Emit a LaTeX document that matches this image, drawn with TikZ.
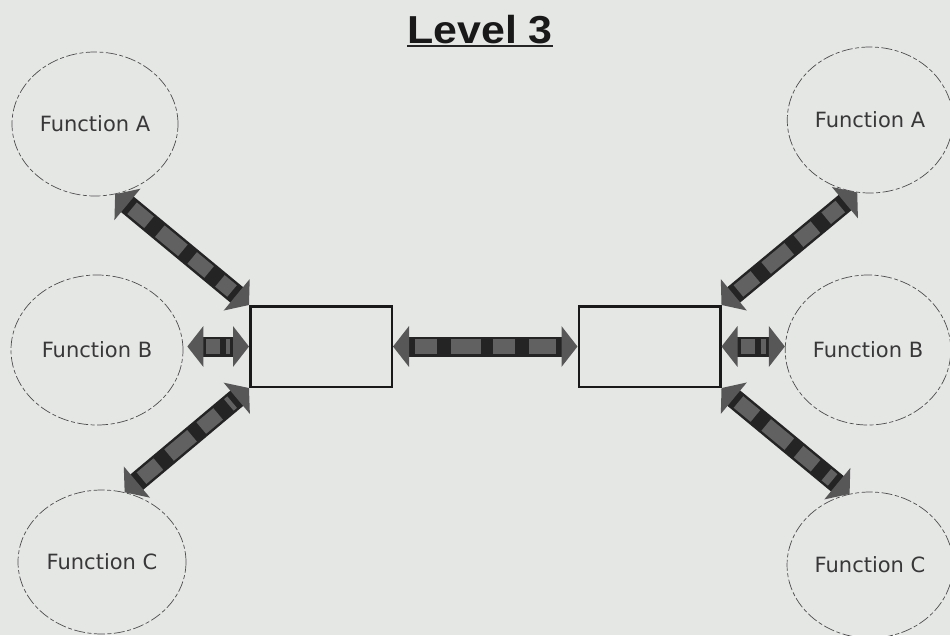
\documentclass[tikz,border=0pt]{standalone}
\usepackage{fontspec}
\setmainfont{DejaVu Sans}
\newfontfamily\titlefont{Liberation Sans}
\usetikzlibrary{arrows.meta,shapes.geometric}
\definecolor{bg}{RGB}{229,231,229}
\begin{document}
\begin{tikzpicture}[x=1pt,y=-1pt,
  fn/.style={ellipse, draw=black!70, line width=0.7pt,
    dash pattern=on 11pt off 2.5pt on 4pt off 2.5pt,
    font=\fontsize{21}{21}\selectfont, text=black!78},
  blk/.style={rectangle, draw=black!90, line width=2.5pt,
    minimum width=141.5pt, minimum height=80.5pt},
  fat/.style={line width=20pt, draw=black!86,
    {Triangle[width=40pt,length=16pt,color=black!66]}-{Triangle[width=40pt,length=16pt,color=black!66]}},
  patch/.style={line width=15pt, draw=black!62, shorten <=22pt, shorten >=22pt,
    dash pattern=on 22pt off 14pt on 30pt off 12pt},
  spatch/.style={line width=15pt, draw=black!62, shorten <=19pt, shorten >=19pt,
    dash pattern=on 14pt off 6pt}
]
\fill[bg] (0,0) rectangle (950,635);
\useasboundingbox (0,0) rectangle (950,635);
\clip (0,0) rectangle (950,635);

% title
\node[font=\titlefont\bfseries\fontsize{39}{39}\selectfont, anchor=base,
  inner sep=0pt, text=black!90] (title) at (480,43) {\scalebox{1.1}[1]{Level 3}};
\draw[line width=2pt, black!85] ([yshift=-3pt]title.base west) -- ([yshift=-3pt]title.base east);

% function ellipses
\node[fn, minimum width=166pt, minimum height=144pt] (LA) at (95,124) {Function A};
\node[fn, minimum width=172pt, minimum height=150pt] (LB) at (97,350) {Function B};
\node[fn, minimum width=168pt, minimum height=144pt] (LC) at (102,562) {Function C};
\node[fn, minimum width=160pt, minimum height=146pt] (RA) at (870,120) {Function A};
\node[fn, minimum width=156pt, minimum height=150pt] (RB) at (868,350) {Function B};
\node[fn, minimum width=160pt, minimum height=146pt] (RC) at (870,565) {Function C};

% boxes
\node[blk] (L) at (321,346.5) {};
\node[blk] (R) at (649.5,346.5) {};

% fat double arrows
\draw[fat] (LA.-74) -- (L.north west);
\draw[patch] (LA.-74) -- (L.north west);
\draw[fat] ([xshift=4pt]LB.east |- L.west) -- (L.west);
\draw[spatch] ([xshift=4pt]LB.east |- L.west) -- (L.west);
\draw[fat] (LC.72) -- (L.south west);
\draw[patch] (LC.72) -- (L.south west);
\draw[fat] (L.east) -- (R.west);
\draw[patch] (L.east) -- (R.west);
\draw[fat] (R.north east) -- (RA.-100);
\draw[patch] (R.north east) -- (RA.-100);
\draw[fat] (R.east) -- (RB.west |- R.east);
\draw[spatch] (R.east) -- (RB.west |- R.east);
\draw[fat] (R.south east) -- (RC.106);
\draw[patch] (R.south east) -- (RC.106);
\end{tikzpicture}
\end{document}
